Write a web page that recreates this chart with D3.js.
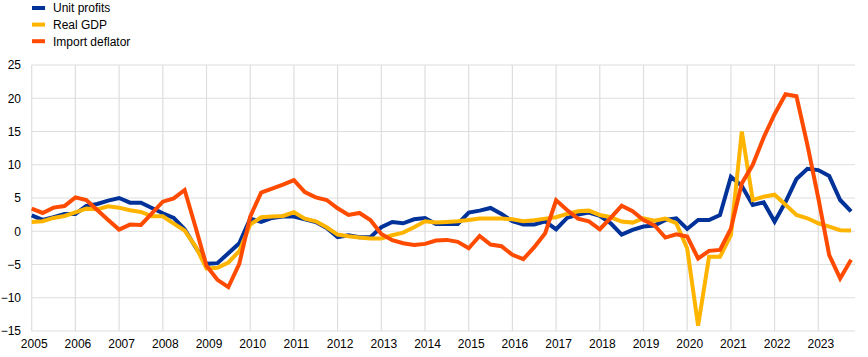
<!DOCTYPE html>
<html>
<head>
<meta charset="utf-8">
<script src="https://cdn.jsdelivr.net/npm/d3@7"></script>
<style>
  body { margin: 0; background: #fff; }
  svg { display: block; font-family: "Liberation Sans", Arial, sans-serif; }
</style>
</head>
<body>
<svg id="chart" width="868" height="357"></svg>
<script>
const startYear = 2005;
const years = d3.range(2005, 2024);
const yTicks = [-15, -10, -5, 0, 5, 10, 15, 20, 25];

const unitProfits = [
  2.4, 1.7, 2.1, 2.6,
  2.6, 3.8, 4.1, 4.6,
  5.0, 4.3, 4.3, 3.5,
  2.7, 2.0, 0.3, -2.4,
  -4.9, -4.8, -3.3, -1.8,
  1.9, 1.4, 2.0, 2.2,
  2.2, 1.8, 1.4, 0.5,
  -0.9, -0.6, -0.9, -0.9,
  0.6, 1.4, 1.2, 1.8,
  2.0, 1.1, 1.1, 1.1,
  2.8, 3.1, 3.5, 2.6,
  1.5, 1.0, 1.0, 1.5,
  0.3, 2.0, 2.5, 2.8,
  2.3, 1.2, -0.5, 0.2,
  0.7, 0.85, 1.7, 1.95,
  0.35, 1.7, 1.7, 2.45,
  8.2, 6.8, 3.95, 4.35,
  1.45, 4.4, 7.85, 9.4,
  9.2, 8.3, 4.7, 3.0
];
const realGDP = [
  1.4, 1.5, 2.0, 2.3,
  2.85, 3.4, 3.3, 3.75,
  3.55, 3.15, 2.9, 2.25,
  2.25, 1.15, 0.1, -2.3,
  -5.6, -5.5, -4.7, -3.0,
  1.0, 2.1, 2.2, 2.3,
  2.85, 1.9, 1.5, 0.6,
  -0.5, -0.75, -0.95, -1.1,
  -1.1, -0.6, -0.2, 0.6,
  1.5, 1.3, 1.4, 1.5,
  1.7, 1.9, 1.9, 1.9,
  1.8, 1.5, 1.65, 1.9,
  2.1, 2.6, 3.0, 3.1,
  2.45, 2.1, 1.45, 1.3,
  1.95, 1.6, 1.9, 1.2,
  -2.6, -14.2, -3.85, -3.85,
  -0.6, 15.0, 4.7, 5.2,
  5.5, 4.0, 2.45, 1.95,
  1.2, 0.7, 0.15, 0.1
];
const importDeflator = [
  3.4, 2.75, 3.55, 3.8,
  5.1, 4.7, 3.2, 1.7,
  0.25, 1.0, 0.95, 2.7,
  4.45, 4.95, 6.2, 0.6,
  -5.2, -7.3, -8.4, -4.9,
  2.2, 5.8, 6.4, 7.0,
  7.7, 5.9, 5.1, 4.7,
  3.45, 2.45, 2.75, 1.7,
  -0.4, -1.35, -1.8, -2.05,
  -1.9, -1.4, -1.3, -1.6,
  -2.55, -0.7, -2.0, -2.25,
  -3.55, -4.2, -2.4, -0.3,
  4.65, 3.2, 1.9, 1.5,
  0.3, 2.0, 3.85, 3.0,
  1.7, 0.9, -0.95, -0.45,
  -0.8, -4.1, -2.95, -2.8,
  0.4, 7.2, 10.0, 14.1,
  17.6, 20.6, 20.3, 13.0,
  5.0, -3.6, -7.1, -4.3
];

const seriesNames = ["Unit profits", "Real GDP", "Import deflator"];
const seriesColors = ["#003299", "#ffb400", "#ff4b00"];
const seriesData = [unitProfits, realGDP, importDeflator];

const svg = d3.select("#chart");
const plotLeft = 31.7, plotRight = 855, plotTop = 65, plotBottom = 331;

const x = d3.scaleLinear().domain([2005, 2023]).range([plotLeft, 818.3]);
const y = d3.scaleLinear().domain([-15, 25]).range([plotBottom, plotTop]);

// gridlines
const grid = svg.append("g");
grid.selectAll("line.h").data(yTicks).enter().append("line")
  .attr("class", "h")
  .attr("x1", plotLeft).attr("x2", plotRight)
  .attr("y1", d => y(d)).attr("y2", d => y(d))
  .attr("stroke", "#dedede").attr("stroke-width", 1.2);
grid.selectAll("line.v").data(years).enter().append("line")
  .attr("class", "v")
  .attr("x1", d => x(d)).attr("x2", d => x(d))
  .attr("y1", plotTop).attr("y2", plotBottom)
  .attr("stroke", "#dedede").attr("stroke-width", 1.2);

// y axis labels
const yAxis = d3.axisLeft(y).tickValues(yTicks).tickSize(0).tickPadding(0);
const gy = svg.append("g").attr("transform", "translate(21,0)").call(yAxis);
gy.select(".domain").remove();
gy.selectAll("text").attr("font-size", 12).attr("fill", "#000")
  .attr("font-family", "Liberation Sans, Arial, sans-serif");

// x axis labels
const xAxis = d3.axisBottom(x).tickValues(years).tickFormat(d3.format("d")).tickSize(0).tickPadding(0);
const gx = svg.append("g").attr("transform", "translate(2,339)").call(xAxis);
gx.select(".domain").remove();
gx.selectAll("text").attr("font-size", 12).attr("fill", "#000")
  .attr("font-family", "Liberation Sans, Arial, sans-serif");

// lines
const line = d3.line()
  .x((d, i) => x(startYear + i / 4))
  .y(d => y(d));
seriesData.forEach((data, k) => {
  svg.append("path")
    .datum(data)
    .attr("fill", "none")
    .attr("stroke", seriesColors[k])
    .attr("stroke-width", 4)
    .attr("stroke-linejoin", "miter")
    .attr("d", line);
});

// legend
const legend = svg.append("g");
seriesNames.forEach((name, k) => {
  const ly = 8 + k * 16.6;
  legend.append("line")
    .attr("x1", 32).attr("x2", 45)
    .attr("y1", ly).attr("y2", ly)
    .attr("stroke", seriesColors[k]).attr("stroke-width", 4);
  legend.append("text")
    .attr("x", 53).attr("y", ly + 4.3)
    .attr("font-size", 12).attr("fill", "#000")
    .text(name);
});
</script>
</body>
</html>
